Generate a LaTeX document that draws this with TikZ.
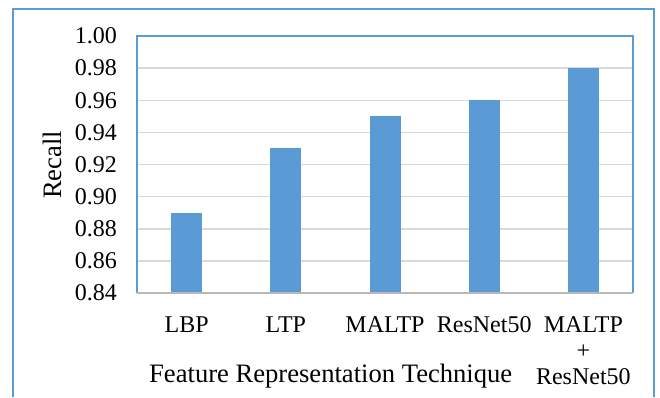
\documentclass[tikz,border=0pt]{standalone}
\usepackage{fontspec}
\setmainfont{Liberation Serif}
\usetikzlibrary{positioning}

\definecolor{barblue}{HTML}{5B9BD5}
\definecolor{gridgray}{HTML}{D9D9D9}

\begin{document}
\begin{tikzpicture}[x=1pt, y=1pt, font=\fontsize{24}{28}\selectfont,
  ticklabel/.style={anchor=east, inner sep=0pt},
  catlabel/.style={anchor=base, inner sep=0pt},
  axistitle/.style={inner sep=0pt, font=\fontsize{26.6}{30}\selectfont}]
  \useasboundingbox (0,0) rectangle (660,397);
%   outer frame, its bottom edge lies below the picture
  \draw[barblue, line width=1.8pt] (13,0) -- (13,388) -- (654,388) -- (654,0);
  % grid and value axis
  \foreach \t [count=\i from 0] in {0.84,0.86,0.88,0.90,0.92,0.94,0.96,0.98,1.00} {
    \draw[gridgray, line width=1.5pt] (137,104+\i*32.125) -- (633,104+\i*32.125);
    \node[ticklabel] (tick\i) at (117,104+\i*32.125) {\t};
  }
  % bars
  \foreach \v [count=\i from 0] in {0.89,0.93,0.95,0.96,0.98}
    \fill[barblue] (137+\i*99.2+34.1,104) rectangle (137+\i*99.2+65.1,{104+(\v-0.84)*1606.25});
  \draw[barblue, line width=1.8pt] (137,104) -- (137,361) -- (633,361) -- (633,104);
  \draw[gridgray!85!black, line width=1.5pt] (137,104) -- (633,104);
  % category labels
  \node[catlabel] (lbp) at (186.6,65) {LBP};
  \node[catlabel] (ltp) at (285.8,65) {LTP};
  \node[catlabel] (maltp) at (385,65) {MALTP};
  \node[catlabel] (resnet) at (484.2,65) {ResNet50};
  \node[catlabel] (combo) at (583.4,65) {MALTP};
  \node[inner sep=0pt] (plus) at (583.4,45) {+};
  \node[catlabel] (combonet) at (583.4,13) {ResNet50};
  % axis titles
  \node[axistitle, anchor=base] (xtitle) at (330.7,15) {Feature Representation Technique};
  \node[axistitle, rotate=90] (ytitle) at (52.5,232) {Recall};
\end{tikzpicture}
\end{document}
